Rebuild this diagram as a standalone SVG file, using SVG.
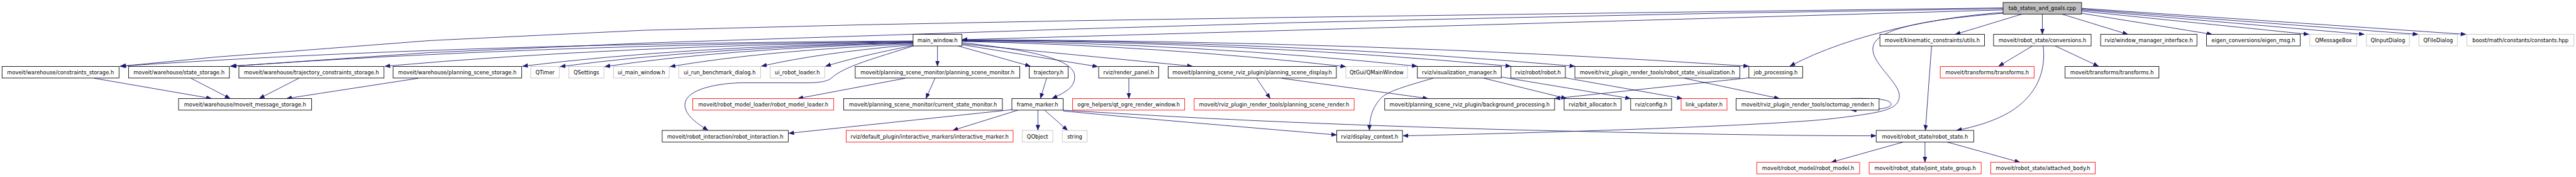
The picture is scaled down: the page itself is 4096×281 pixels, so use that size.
<svg xmlns="http://www.w3.org/2000/svg" width="4096" height="281" viewBox="0 0 4096 281">
<style>
rect{fill:#fff;stroke:#000;stroke-width:1.3}
.g rect{stroke:#bfbfbf}
.r rect{stroke:#ff0000}
.root rect{fill:#bfbfbf}
text{font-family:"DejaVu Sans","Liberation Sans",sans-serif;font-size:12.7px;text-anchor:middle;fill:#000}
#edges path{fill:none;stroke:#191970;stroke-width:1.3;marker-end:url(#a)}
</style>
<defs>
<marker id="a" markerUnits="userSpaceOnUse" markerWidth="14" markerHeight="11" refX="13" refY="5" orient="auto"><path d="M0,0 L13,5 L0,10 Z" fill="#191970" stroke="#191970" stroke-width="0.5"/></marker>
</defs>
<rect x="0" y="0" width="4096" height="281" style="fill:#fff;stroke:none"/>
<g transform="scale(0.65725)">
<g id="edges">
<path d="M4846,24 L2327,96"/>
<path d="M4846,19 L4160,28 L3640,35 L3120,42 L2600,50 L2080,60 L1560,73 L1040,98 L520,138 L292,160"/>
<path d="M4846,21 L4160,32 L3640,43 L3120,55 L2600,70 L2080,87 L1560,104 L1040,127 L559,160"/>
<path d="M4892,34 L4730,83"/>
<path d="M4941,34 L4941,83"/>
<path d="M4988,34 L5148,83"/>
<path d="M5036,32 L5352,83"/>
<path d="M5036,27 L5586,83"/>
<path d="M5036,24 L5720,83"/>
<path d="M5036,22 L5850,83"/>
<path d="M5036,20 L5966,83"/>
<path d="M4846,30 C4700,40 4480,80 4330,160"/>
<path d="M4846,32 C4650,48 4545,70 4532,110 C4520,150 4600,200 4595,235 C4590,265 4560,272 4420,288 C4250,305 3700,322 3394,328"/>
<path d="M2268,111 L2268,160"/>
<path d="M2318,111 L2493,160"/>
<path d="M2327,103 C2480,120 2600,140 2600,185 C2600,210 2580,222 2545,238"/>
<path d="M2327,106 L2885,160"/>
<path d="M2327,108 L2656,161"/>
<path d="M2327,100 Q2800,110 3256,161"/>
<path d="M2327,99 Q2900,105 3429,160"/>
<path d="M2327,98 Q3000,100 3655,160"/>
<path d="M2327,97 Q3100,98 3810,160"/>
<path d="M2327,96 Q3300,98 4231,160"/>
<path d="M2209,99 Q1100,105 290,160"/>
<path d="M2209,100 Q1300,108 557,160"/>
<path d="M2209,101 Q1500,110 931,160"/>
<path d="M2209,102 Q1650,112 1264,160"/>
<path d="M2209,103 Q1700,115 1355,161"/>
<path d="M2209,104 Q1750,118 1463,161"/>
<path d="M2209,106 Q1850,122 1621,161"/>
<path d="M2209,108 Q1980,128 1842,160"/>
<path d="M2209,110 Q2080,135 1997,160"/>
<path d="M2209,111 C2120,140 2040,160 2010,190 C1990,202 1960,200 1900,200 L1793,200 C1720,202 1657,220 1657,253 C1657,280 1690,300 1713,315"/>
<path d="M2448,265 L1908,322"/>
<path d="M2463,266 L2305,315"/>
<path d="M2511,266 L2511,315"/>
<path d="M2527,266 L2583,315"/>
<path d="M2572,268 C2800,290 3050,310 3234,326"/>
<path d="M2572,266 C2800,280 3100,298 3640,313 C4000,322 4300,328 4539,328"/>
<path d="M2532,189 L2517,238"/>
<path d="M2262,189 L2240,238"/>
<path d="M2190,189 L1930,238"/>
<path d="M2731,189 L2731,238"/>
<path d="M3040,189 L3073,238"/>
<path d="M3100,189 L3455,238"/>
<path d="M3467,189 C3400,208 3360,220 3343,235 C3320,258 3313,285 3313,315"/>
<path d="M3590,189 L3790,238"/>
<path d="M3632,186 L3945,238"/>
<path d="M3787,188 L4070,238"/>
<path d="M4231,188 L3761,238"/>
<path d="M4075,189 L4305,238"/>
<path d="M4475,238 C4560,236 4575,244 4575,252 C4575,262 4540,266 4478,266"/>
<path d="M4917,111 L4835,160"/>
<path d="M4972,111 L5077,160"/>
<path d="M4943,111 C4950,170 4930,230 4860,272 C4820,295 4770,308 4733,315"/>
<path d="M4673,111 L4658,315"/>
<path d="M4605,343 L4430,392"/>
<path d="M4657,343 L4657,392"/>
<path d="M4710,343 L4887,392"/>
<path d="M228,189 L512,238"/>
<path d="M462,189 L557,238"/>
<path d="M723,189 L627,238"/>
<path d="M1012,189 L693,238"/>
</g>
<g id="n_tab" class="root"><rect x="4846" y="6" width="190" height="28"/><text x="4941" y="25">tab_states_and_goals.cpp</text></g>
<g id="n_mw"><rect x="2209" y="83" width="118" height="28"/><text x="2268" y="102">main_window.h</text></g>
<g id="n_kc"><rect x="4548" y="83" width="253" height="28"/><text x="4674.5" y="102">moveit/kinematic_constraints/utils.h</text></g>
<g id="n_conv"><rect x="4823" y="83" width="236" height="28"/><text x="4941" y="102">moveit/robot_state/conversions.h</text></g>
<g id="n_wmi"><rect x="5082" y="83" width="233" height="28"/><text x="5198.5" y="102">rviz/window_manager_interface.h</text></g>
<g id="n_eig"><rect x="5338" y="83" width="227" height="28"/><text x="5451.5" y="102">eigen_conversions/eigen_msg.h</text></g>
<g id="n_qmb" class="g"><rect x="5588" y="83" width="114" height="28"/><text x="5645" y="102">QMessageBox</text></g>
<g id="n_qid" class="g"><rect x="5725" y="83" width="104" height="28"/><text x="5777" y="102">QInputDialog</text></g>
<g id="n_qfd" class="g"><rect x="5852" y="83" width="93" height="28"/><text x="5898.5" y="102">QFileDialog</text></g>
<g id="n_bst" class="g"><rect x="5968" y="83" width="259" height="28"/><text x="6097.5" y="102">boost/math/constants/constants.hpp</text></g>
<g id="n_cs"><rect x="5" y="160.5" width="283" height="28"/><text x="146.5" y="179">moveit/warehouse/constraints_storage.h</text></g>
<g id="n_ss"><rect x="311" y="160.5" width="244" height="28"/><text x="433" y="179">moveit/warehouse/state_storage.h</text></g>
<g id="n_tcs"><rect x="578" y="160.5" width="351" height="28"/><text x="753.5" y="179">moveit/warehouse/trajectory_constraints_storage.h</text></g>
<g id="n_pss"><rect x="951" y="160.5" width="311" height="28"/><text x="1106.5" y="179">moveit/warehouse/planning_scene_storage.h</text></g>
<g id="n_qt" class="g"><rect x="1284" y="160.5" width="69" height="28"/><text x="1318.5" y="179">QTimer</text></g>
<g id="n_qs" class="g"><rect x="1376" y="160.5" width="85" height="28"/><text x="1418.5" y="179">QSettings</text></g>
<g id="n_uimw" class="g"><rect x="1484" y="160.5" width="135" height="28"/><text x="1551.5" y="179">ui_main_window.h</text></g>
<g id="n_uirb" class="g"><rect x="1642" y="160.5" width="198" height="28"/><text x="1741" y="179">ui_run_benchmark_dialog.h</text></g>
<g id="n_uirl" class="g"><rect x="1863" y="160.5" width="132" height="28"/><text x="1929" y="179">ui_robot_loader.h</text></g>
<g id="n_psm"><rect x="2069" y="160.5" width="398" height="28"/><text x="2268" y="179">moveit/planning_scene_monitor/planning_scene_monitor.h</text></g>
<g id="n_traj"><rect x="2490" y="160.5" width="94" height="28"/><text x="2537" y="179">trajectory.h</text></g>
<g id="n_rp"><rect x="2658" y="160.5" width="145" height="28"/><text x="2730.5" y="179">rviz/render_panel.h</text></g>
<g id="n_psd"><rect x="2826" y="160.5" width="407" height="28"/><text x="3029.5" y="179">moveit/planning_scene_rviz_plugin/planning_scene_display.h</text></g>
<g id="n_qmw" class="g"><rect x="3256" y="160.5" width="149" height="28"/><text x="3330.5" y="179">QtGui/QMainWindow</text></g>
<g id="n_vm"><rect x="3429" y="160.5" width="203" height="28"/><text x="3530.5" y="179">rviz/visualization_manager.h</text></g>
<g id="n_rob"><rect x="3655" y="160.5" width="132" height="28"/><text x="3721" y="179">rviz/robot/robot.h</text></g>
<g id="n_rsv"><rect x="3810" y="160.5" width="399" height="28"/><text x="4009.5" y="179">moveit/rviz_plugin_render_tools/robot_state_visualization.h</text></g>
<g id="n_jp"><rect x="4231" y="160.5" width="130" height="28"/><text x="4296" y="179">job_processing.h</text></g>
<g id="n_trr" class="r"><rect x="4694" y="160.5" width="227" height="28"/><text x="4807.5" y="179">moveit/transforms/transforms.h</text></g>
<g id="n_trb"><rect x="4996" y="160.5" width="227" height="28"/><text x="5109.5" y="179">moveit/transforms/transforms.h</text></g>
<g id="n_mms"><rect x="432" y="238" width="322" height="28"/><text x="593" y="257">moveit/warehouse/moveit_message_storage.h</text></g>
<g id="n_rml" class="r"><rect x="1676" y="238" width="341" height="28"/><text x="1846.5" y="257">moveit/robot_model_loader/robot_model_loader.h</text></g>
<g id="n_csm"><rect x="2041" y="238" width="384" height="28"/><text x="2233" y="257">moveit/planning_scene_monitor/current_state_monitor.h</text></g>
<g id="n_fm"><rect x="2448" y="238" width="124" height="28"/><text x="2510" y="257">frame_marker.h</text></g>
<g id="n_qorw" class="r"><rect x="2595" y="238" width="271" height="28"/><text x="2730.5" y="257">ogre_helpers/qt_ogre_render_window.h</text></g>
<g id="n_psr" class="r"><rect x="2889" y="238" width="387" height="28"/><text x="3082.5" y="257">moveit/rviz_plugin_render_tools/planning_scene_render.h</text></g>
<g id="n_bp"><rect x="3350" y="238" width="411" height="28"/><text x="3555.5" y="257">moveit/planning_scene_rviz_plugin/background_processing.h</text></g>
<g id="n_ba"><rect x="3784" y="238" width="138" height="28"/><text x="3853" y="257">rviz/bit_allocator.h</text></g>
<g id="n_cfg"><rect x="3945" y="238" width="99" height="28"/><text x="3994.5" y="257">rviz/config.h</text></g>
<g id="n_lu" class="r"><rect x="4067" y="238" width="111" height="28"/><text x="4122.5" y="257">link_updater.h</text></g>
<g id="n_om"><rect x="4200" y="238" width="346" height="28"/><text x="4373" y="257">moveit/rviz_plugin_render_tools/octomap_render.h</text></g>
<g id="n_ri"><rect x="1602" y="315" width="305" height="28"/><text x="1754.5" y="334">moveit/robot_interaction/robot_interaction.h</text></g>
<g id="n_im" class="r"><rect x="2047" y="315" width="404" height="28"/><text x="2249" y="334">rviz/default_plugin/interactive_markers/interactive_marker.h</text></g>
<g id="n_qo" class="g"><rect x="2473" y="315" width="74" height="28"/><text x="2510" y="334">QObject</text></g>
<g id="n_str" class="g"><rect x="2570" y="315" width="60" height="28"/><text x="2600" y="334">string</text></g>
<g id="n_dc"><rect x="3234" y="315" width="159" height="28"/><text x="3313.5" y="334">rviz/display_context.h</text></g>
<g id="n_rs"><rect x="4539" y="315" width="236" height="28"/><text x="4657" y="334">moveit/robot_state/robot_state.h</text></g>
<g id="n_rm" class="r"><rect x="4250" y="392" width="249" height="28"/><text x="4374.5" y="411">moveit/robot_model/robot_model.h</text></g>
<g id="n_jsg" class="r"><rect x="4522" y="392" width="271" height="28"/><text x="4657.5" y="411">moveit/robot_state/joint_state_group.h</text></g>
<g id="n_ab" class="r"><rect x="4816" y="392" width="253" height="28"/><text x="4942.5" y="411">moveit/robot_state/attached_body.h</text></g>
</g>
</svg>
